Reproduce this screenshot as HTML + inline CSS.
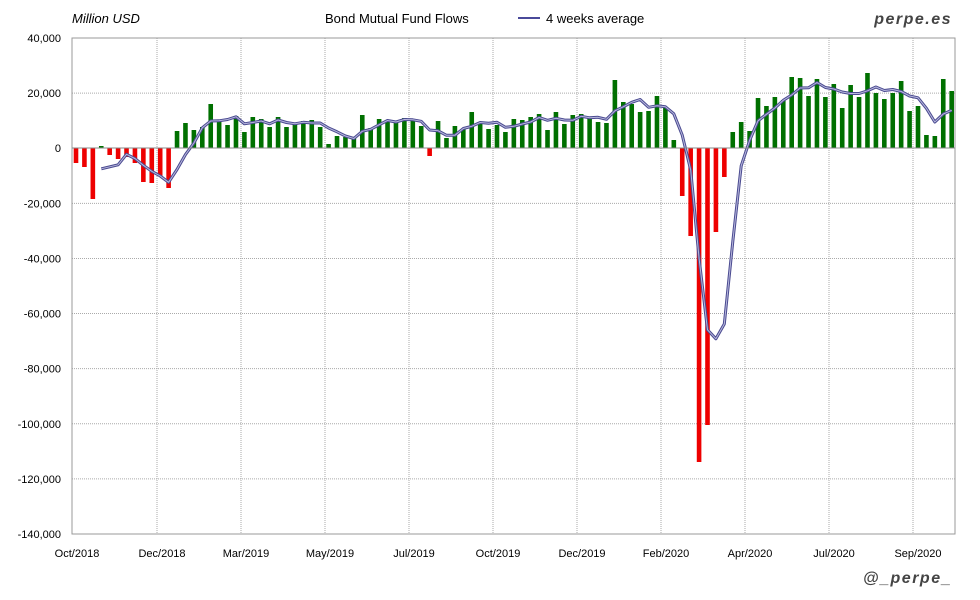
<!DOCTYPE html>
<html><head><meta charset="utf-8"><style>
body{margin:0;background:#fff;}
svg{display:block;font-family:"Liberation Sans",sans-serif;}
</style></head><body>
<svg id="c" width="980" height="600" xmlns="http://www.w3.org/2000/svg">
<rect width="980" height="600" fill="#fff"/>
<g id="grid"></g>
<g id="bars"></g>
<g id="line"></g>
<rect x="72" y="38" width="883" height="496" fill="none" stroke="#999" stroke-width="1"/>
<line x1="72" y1="148" x2="955" y2="148" stroke="#888" stroke-width="1"/>
<g id="lab" font-size="11" fill="#000"></g>
<text x="72" y="23" font-size="13" font-style="italic" fill="#000">Million USD</text>
<text x="325" y="23" font-size="13" fill="#000">Bond Mutual Fund Flows</text>
<line x1="518" y1="18" x2="540" y2="18" stroke="#4a4a9a" stroke-width="2"/>
<text x="546" y="23" font-size="13" fill="#000">4 weeks average</text>
<text x="952" y="24" font-size="16" font-style="italic" font-weight="bold" fill="#444" text-anchor="end" letter-spacing="1.5">perpe.es</text>
<text x="952" y="583" font-size="16" font-style="italic" font-weight="bold" fill="#444" text-anchor="end" letter-spacing="1.5">@_perpe_</text>
</svg>
<script>
var NS="http://www.w3.org/2000/svg";
function el(p,t,a,txt){var e=document.createElementNS(NS,t);for(var k in a)e.setAttribute(k,a[k]);if(txt!==undefined)e.textContent=txt;document.getElementById(p).appendChild(e);return e;}
var ylabs=["40,000","20,000","0","-20,000","-40,000","-60,000","-80,000","-100,000","-120,000","-140,000"];
for(var i=0;i<10;i++){var y=38+i*55.11;
 if(i>0&&i<9&&i!=2)el("grid","line",{x1:72,y1:y,x2:955,y2:y,stroke:"#aaa","stroke-dasharray":"1,1"});
 el("lab","text",{x:61,y:y+4,"text-anchor":"end"},ylabs[i]);}
var gx=[72,157,241,325,409,493,577,661,745,829,913];
var xl=["Oct/2018","Dec/2018","Mar/2019","May/2019","Jul/2019","Oct/2019","Dec/2019","Feb/2020","Apr/2020","Jul/2020","Sep/2020"];
for(var i=0;i<gx.length;i++){ if(i>0)el("grid","line",{x1:gx[i],y1:38,x2:gx[i],y2:534,stroke:"#aaa","stroke-dasharray":"1,1"});
 el("lab","text",{x:gx[i]+5,y:557,"text-anchor":"middle"},xl[i]);}
var Y=[163,167,199,146,155,159,157,163,182,183,176,188,131,123,130,127,104,122,125,116,132,117,119,127,117,127,124,121,120,127,144,136,137,
137,115,128,119,120,121,118,120,126,156,121,138,126,129,112,123,129,125,132,119,120,117,114,130,112,124,115,114,118,122,123,80,102,104,112,111,96,108,
140,196,236,462,425,232,177,132,122,131,98,106,97,100,77,78,96,79,97,84,108,85,97,73,93,99,93,81,111,106,135,136,79,91];
var Z=148,pts=[];
for(var i=0;i<Y.length;i++){var x=76+8.42*i;var v=Y[i];
 var top=Math.min(v,Z),h=Math.abs(v-Z);if(h<1)h=1.5;
 if(v>Z||(i==3?false:false))el("bars","rect",{x:x-2.3,y:Z,width:4.6,height:v-Z,fill:"#ee0000"});
 else el("bars","rect",{x:x-2.3,y:(i==3?146:v),width:4.6,height:(i==3?2:Z-v),fill:"#007000"});
 if(i>=3){var s=0;for(var j=i-3;j<=i;j++)s+=Y[j]-Z;pts.push(x.toFixed(1)+","+(Z+s/4).toFixed(1));}}
var d=pts.join(" ");
el("line","polyline",{points:d,fill:"none",stroke:"#4a4a90","stroke-width":3,"stroke-linejoin":"round"});
el("line","polyline",{points:d,fill:"none",stroke:"#b8b8dd","stroke-width":1,"stroke-linejoin":"round"});
</script>
</body></html>
